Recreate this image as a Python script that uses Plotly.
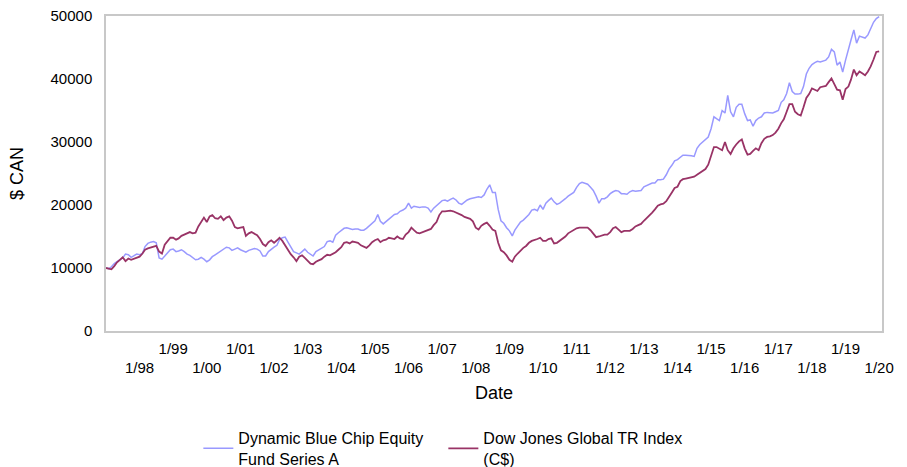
import pandas as pd
import plotly.graph_objects as go

series_names = ["Dynamic Blue Chip Equity<br>Fund Series A", "Dow Jones Global TR Index<br>(C$)"]

fund_values = [
    # 1997
    10000, 9900, 10200, 10700, 11000, 11300, 11600, 12200, 12100, 11700, 11900, 12200,
    # 1998
    12100, 12300, 13400, 13900, 14100, 14200, 14000, 11600, 11400, 11900, 12300, 12900,
    # 1999
    13000, 12600, 12700, 12900, 12600, 12200, 12000, 11600, 11300, 11400, 11700, 11400,
    # 2000
    11000, 11300, 11800, 12100, 12400, 12700, 13000, 13300, 13200, 12800, 13000, 13200,
    # 2001
    12900, 12700, 12500, 12800, 13000, 13100, 13000, 12700, 11900, 11900, 12600, 13000,
    # 2002
    13300, 13600, 14500, 14800, 14900, 14100, 13300, 12600, 12400, 12200, 12600, 13000,
    # 2003
    12500, 12200, 11900, 12600, 12900, 13100, 13400, 14200, 14300, 14100, 15200, 15600,
    # 2004
    15900, 16300, 16400, 16200, 16100, 16200, 16200, 16000, 16000, 16300, 16700, 17100,
    # 2005
    17500, 18500, 17400, 17000, 17400, 17700, 18200, 18500, 18600, 19000, 19200, 19500,
    # 2006
    20300, 19500, 19800, 19700, 19600, 19700, 19700, 19500, 18900, 19500, 19900, 20400,
    # 2007
    20700, 20800, 20600, 20900, 21100, 20800, 20300, 20100, 20500, 20800, 21000, 21100,
    # 2008
    21300, 21300, 21200, 21600, 22500, 23200, 22000, 22000, 19300, 17500, 17100, 16400,
    # 2009
    15900, 15100, 16000, 16700, 17300, 17600, 18000, 18500, 19200, 19300, 19100, 20000,
    # 2010
    19300, 20300, 20700, 21100, 20500, 20100, 20300, 20600, 21000, 21400, 21700, 22000,
    # 2011
    22800, 23400, 23600, 23500, 23300, 22800, 22300, 21400, 20300, 21000, 21000, 21300,
    # 2012
    21800, 22100, 22300, 22200, 21800, 21800, 21700, 22100, 22300, 22200, 22200, 22300,
    # 2013
    22900, 23100, 23300, 23500, 23500, 24000, 24000, 24100, 24800, 25700, 26300, 27000,
    # 2014
    27200, 27500, 27900, 27900, 27900, 27800, 27700, 29000, 29600, 30000, 30500, 30800,
    # 2015
    32100, 34000, 33700, 33400, 35000, 34600, 37400, 34800, 34000, 35500, 36000, 36000,
    # 2016
    34500, 33400, 33500, 32500, 33400, 33800, 34000, 34600, 34700, 34700, 34600, 34800,
    # 2017
    35000, 36300, 36700, 37700, 39400, 38000, 37600, 37600, 37700, 38800, 40800, 41700,
    # 2018
    42300, 42600, 42800, 42700, 42900, 43000, 43500, 44700, 44300, 42200, 42700, 41100,
    # 2019
    43000, 44500, 46200, 47800, 45700, 46800, 46600, 46500, 47000, 48000, 49000, 49600,
    # 2020
    49900,
]

index_values = [
    # 1997
    10000, 9900, 9800, 10300, 10900, 11300, 11700, 11100, 11500, 11300, 11500, 11700,
    # 1998
    11800, 12300, 12900, 13100, 13200, 13300, 13500, 12600, 12300, 13700, 14300, 14800,
    # 1999
    14800, 14500, 14700, 15100, 15300, 15500, 15700, 15500, 15600, 16600, 17300, 18000,
    # 2000
    17300, 18200, 18400, 17900, 17800, 18200, 17600, 18000, 18200, 17500, 16500, 16300,
    # 2001
    16400, 16500, 15100, 15500, 15700, 15500, 15200, 14600, 13800, 13500, 14100, 14400,
    # 2002
    14000, 14400, 14800, 14300, 13600, 12800, 12200, 11700, 11100, 11800, 12000, 11600,
    # 2003
    11100, 10700, 10600, 11000, 11200, 11400, 11800, 12100, 12000, 12200, 12500, 12900,
    # 2004
    13300, 14000, 14100, 13900, 14200, 14100, 14000, 13600, 13400, 13200, 13600, 14100,
    # 2005
    14400, 14600, 14100, 14400, 14500, 14800, 14700, 14600, 15000, 14700, 14600, 15300,
    # 2006
    15700, 16400, 16000, 15600, 15500, 15700, 15900, 16000, 16200, 16800, 17300, 18400,
    # 2007
    19000, 19000, 19100, 19100, 19000, 18800, 18700, 18400, 18100, 17900, 17800, 17400,
    # 2008
    16400, 16100, 16700, 17000, 17200, 16700, 16100, 15900, 14000, 12800, 12500, 12000,
    # 2009
    11300, 11000, 11800, 12300, 12800, 13200, 13500, 14000, 14300, 14400, 14600, 14800,
    # 2010
    14300, 14300, 14600, 14700, 13900, 14000, 14300, 14700, 15000, 15500, 15800, 16100,
    # 2011
    16300, 16400, 16400, 16500, 16400, 16000, 15500, 14900, 15000, 15200, 15300, 15300,
    # 2012
    15700, 16300, 16500, 16100, 15700, 15900, 15900, 15900, 16200, 16600, 16800, 17000,
    # 2013
    17500, 17900, 18300, 18800, 19300, 19900, 20100, 20200, 20600, 21200, 22000, 22700,
    # 2014
    22900, 23800, 24100, 24200, 24300, 24400, 24500, 24800, 25100, 25400, 25700, 26400,
    # 2015
    27900, 29200, 29200, 29000, 28700, 30000, 28700, 28100, 29000, 29600, 30100, 30400,
    # 2016
    29000, 28000, 28100, 28600, 29000, 28700, 29800, 30500, 30800, 30900, 31100, 31500,
    # 2017
    32100, 33000, 33600, 34800, 36000, 36000, 34800, 34400, 34200, 35500, 37000, 37600,
    # 2018
    38500, 38300, 38100, 38700, 38800, 38900, 39500, 40100, 39200, 38300, 38200, 36700,
    # 2019
    38400, 38800, 39900, 41500, 40600, 41200, 40900, 40600, 41200, 42000, 43100, 44300,
    # 2020
    44400,
]

dates = pd.date_range("1997-01-01", periods=len(fund_values), freq="MS")

tick_years = list(range(1998, 2021))
tick_vals = [f"{y}-01-01" for y in tick_years]
tick_text = [(f"1/{y % 100:02d}" if y % 2 == 1 else f"<br>1/{y % 100:02d}") for y in tick_years]

y_ticks = [0, 10000, 20000, 30000, 40000, 50000]

FONT = "Arial, 'Liberation Sans', sans-serif"

fig = go.Figure()
fig.add_trace(go.Scatter(x=dates, y=fund_values, mode="lines", name=series_names[0],
                         line=dict(color="#9999FF", width=1.5)))
fig.add_trace(go.Scatter(x=dates, y=index_values, mode="lines", name=series_names[1],
                         line=dict(color="#993366", width=1.8)))

fig.update_layout(
    width=907, height=467,
    margin=dict(l=106, r=25, t=16, b=136, autoexpand=False),
    paper_bgcolor="white", plot_bgcolor="white",
    font=dict(family=FONT, size=15, color="#000000"),
    showlegend=True,
    legend=dict(orientation="h", xref="paper", x=0.119, xanchor="left",
                yref="container", y=0.0985, yanchor="top",
                font=dict(size=16), entrywidth=200, entrywidthmode="pixels",
                itemwidth=30, tracegroupgap=0),
    xaxis=dict(
        range=["1997-01-01", "2020-02-01"], automargin=False,
        tickmode="array", tickvals=tick_vals, ticktext=tick_text,
        showgrid=False, zeroline=False,
        showline=True, mirror=True, linecolor="#C8C8C8", linewidth=1.5,
        ticks="", tickangle=0, ticklabelstandoff=3,
        title=dict(text="Date", standoff=11),
    ),
    yaxis=dict(
        range=[0, 50000], automargin=False, tickmode="array", tickvals=y_ticks,
        ticktext=[str(v) for v in y_ticks],
        showgrid=False, zeroline=False,
        showline=True, mirror=True, linecolor="#C8C8C8", linewidth=1.5,
        ticks="", ticklabelstandoff=9,
        title=dict(text="$ CAN", standoff=22),
    ),
)

fig.write_html("out.html",
               config={"displayModeBar": False},
               post_script="document.body.style.margin='0px';document.body.style.overflow='hidden';")
